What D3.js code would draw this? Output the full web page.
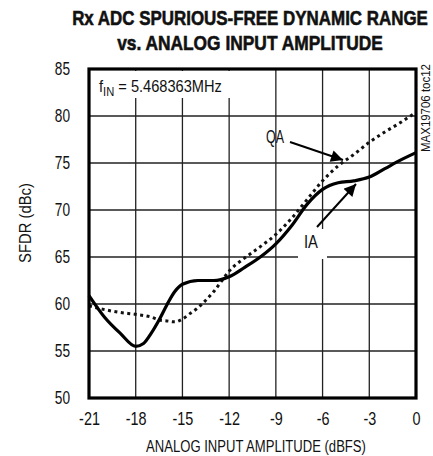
<!DOCTYPE html>
<html><head><meta charset="utf-8">
<script src="https://cdn.jsdelivr.net/npm/d3@7"></script>
<style>
body{margin:0;background:#fff;}
text{font-family:"Liberation Sans",Arial,Helvetica,sans-serif;fill:#111;}
</style></head>
<body><svg id="c" width="433" height="456"></svg>
<script>
const xTicks = [-21,-18,-15,-12,-9,-6,-3,0];
const yTicks = [50,55,60,65,70,75,80,85];
const iaX = [-21,-20,-19,-18,-17.5,-17,-16.5,-16,-15.5,-15,-14,-13,-12,-11,-10,-9,-8,-7,-6,-5,-4,-3,-2,-1,0];
const iaY = [60.9,58.6,56.9,55.5,55.8,56.9,58.3,59.9,61.3,62.1,62.5,62.5,62.9,63.9,65.0,66.4,68.3,70.6,72.2,72.9,73.1,73.5,74.4,75.3,76.1];
const qaX = [-21,-20,-19,-18,-17,-16.5,-16,-15.5,-15,-14.5,-14,-13.5,-13,-12.5,-12,-11,-10,-9,-8,-7,-6,-5,-4,-3,-2,-1,0];
const qaY = [59.8,59.4,59.1,58.9,58.6,58.3,58.2,58.1,58.4,59.0,59.6,60.4,61.3,62.4,63.5,64.9,66.1,67.4,69.1,71.1,73.1,74.7,75.9,77.2,78.3,79.3,80.4];

const svg = d3.select("#c");
const m = {l:89,t:69,r:17,b:58};
const W = 433-m.l-m.r, H = 456-m.t-m.b;
const x = d3.scaleLinear().domain([-21,0]).range([m.l,m.l+W]);
const y = d3.scaleLinear().domain([50,85]).range([m.t+H,m.t]);

function txt(px, py, str, size, o={}){
  const g = svg.append("g").attr("transform",`translate(${px},${py})`);
  const t = g.append("text").attr("font-size",size).attr("text-anchor",o.anchor||"start")
    .attr("font-weight",o.bold?"bold":null).text(str);
  if (o.stroke) t.attr("stroke","#111").attr("stroke-width",o.stroke);
  let s = o.sx || 0.8;
  if (o.width){ s = o.width / t.node().getComputedTextLength(); }
  t.attr("transform",`${o.rot?`rotate(${o.rot}) `:""}scale(${s},1)`);
  return t;
}

// title
txt(250,25,"Rx ADC SPURIOUS-FREE DYNAMIC RANGE",21,{anchor:"middle",bold:true,width:356,stroke:0.6});
txt(250,50,"vs. ANALOG INPUT AMPLITUDE",21,{anchor:"middle",bold:true,width:266,stroke:0.6});

// grid
const g = svg.append("g");
g.selectAll("line.vx").data(xTicks.slice(1,-1)).join("line")
  .attr("x1",d=>x(d)).attr("x2",d=>x(d)).attr("y1",y(85)).attr("y2",y(50))
  .attr("stroke","#222").attr("stroke-width",1.3);
g.selectAll("line.hy").data(yTicks.slice(1,-1)).join("line")
  .attr("y1",d=>y(d)).attr("y2",d=>y(d)).attr("x1",x(-21)).attr("x2",x(0))
  .attr("stroke","#222").attr("stroke-width",1.3);

// axes labels
const xa = d3.axisBottom(x).tickValues(xTicks).tickSize(0).tickPadding(14).tickFormat(d=>String(d));
const xg = svg.append("g").attr("transform",`translate(0,${y(50)})`).call(xa);
xg.select(".domain").remove();
xg.selectAll("text").attr("font-size",18).attr("fill","#111").attr("transform","scale(0.8,1)")
  .attr("font-family","Liberation Sans, Arial, sans-serif");
const ya = d3.axisLeft(y).tickValues(yTicks).tickSize(0).tickFormat(d=>String(d));
const yg = svg.append("g").attr("transform",`translate(${x(-21)},0)`).call(ya);
yg.select(".domain").remove();
yg.selectAll("text").attr("font-size",18).attr("fill","#111").attr("x",-19/0.76).attr("transform","scale(0.76,1)")
  .attr("font-family","Liberation Sans, Arial, sans-serif");

txt(256,452,"ANALOG INPUT AMPLITUDE (dBFS)",17,{anchor:"middle",width:220});
txt(31,223,"SFDR (dBc)",17,{anchor:"middle",width:80,rot:-90});
txt(430,108,"MAX19706 toc12",12,{anchor:"middle",width:88,rot:-90});

// white label boxes
svg.append("rect").attr("x",x(-21)+2).attr("y",y(85)+2).attr("width",144).attr("height",27).attr("fill","#fff");
svg.append("rect").attr("x",298).attr("y",229).attr("width",29).attr("height",30).attr("fill","#fff");

// lines
const line = d3.line().x(d=>x(d[0])).y(d=>y(d[1])).curve(d3.curveMonotoneX);
svg.append("path").attr("d",line(qaX.map((v,i)=>[v,qaY[i]])))
  .attr("fill","none").attr("stroke","#111").attr("stroke-width",3).attr("stroke-dasharray","3,3.5");
svg.append("path").attr("d",line(iaX.map((v,i)=>[v,iaY[i]])))
  .attr("fill","none").attr("stroke","#000").attr("stroke-width",3.2).attr("stroke-linejoin","round");

// frame
svg.append("rect").attr("x",x(-21)).attr("y",y(85)).attr("width",W).attr("height",H)
  .attr("fill","none").attr("stroke","#000").attr("stroke-width",3.2);

// fIN label
{
  const gg = svg.append("g").attr("transform","translate(99,92)");
  const ft = gg.append("text").attr("font-size",17);
  ft.append("tspan").text("f");
  ft.append("tspan").attr("font-size",13).attr("dy",4).text("IN");
  ft.append("tspan").attr("dy",-4).text(" = 5.468363MHz");
  const s = 123 / ft.node().getComputedTextLength();
  ft.attr("transform",`scale(${s},1)`);
}

// annotations
const defs = svg.append("defs");
defs.append("marker").attr("id","ah").attr("viewBox","0 0 10 10").attr("refX",10).attr("refY",5)
  .attr("markerWidth",7).attr("markerHeight",6).attr("orient","auto").attr("markerUnits","strokeWidth")
  .append("path").attr("d","M0,0L10,5L0,10Z").attr("fill","#000");
txt(275,143,"QA",18,{anchor:"middle",width:18});
svg.append("line").attr("x1",290).attr("y1",142).attr("x2",343).attr("y2",160)
  .attr("stroke","#000").attr("stroke-width",2).attr("marker-end","url(#ah)");
txt(311,248,"IA",18,{anchor:"middle",width:14});
svg.append("line").attr("x1",317).attr("y1",227).attr("x2",356).attr("y2",184)
  .attr("stroke","#000").attr("stroke-width",2).attr("marker-end","url(#ah)");
</script></body></html>
